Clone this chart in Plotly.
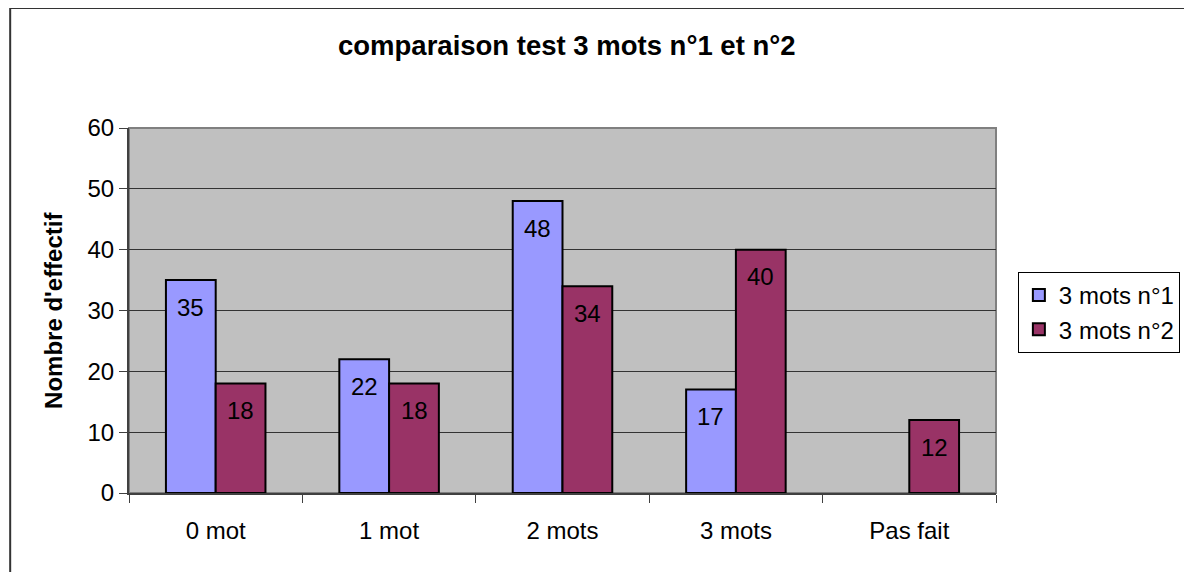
import plotly.graph_objects as go

categories = ["0 mot", "1 mot", "2 mots", "3 mots", "Pas fait"]
serie1_name = "3 mots n°1"
serie2_name = "3 mots n°2"
serie1 = [35, 22, 48, 17, None]
serie2 = [18, 18, 34, 40, 12]
y_ticks = [0, 10, 20, 30, 40, 50, 60]

FONT = "Liberation Sans, Arial, sans-serif"

# page body adds an 8px margin; the 1200px-wide page is shown in a 1192px window
OFF = 8
KX = 1200 / 1192


def fx(x):  # target screenshot x -> figure x
    return x * KX - OFF


W, H = 1192 - OFF, 572 - OFF
L, R, T, B = fx(128), fx(1000), 128 - OFF, 493 - OFF
pw, ph = R - L, B - T


def px(x):
    return (fx(x) - L) / pw


def py(y):
    return (B - (y - OFF)) / ph


fig = go.Figure()
fig.add_trace(go.Bar(x=categories, y=serie1, name=serie1_name,
                     marker=dict(color="#9999FF", line=dict(color="black", width=2))))
fig.add_trace(go.Bar(x=categories, y=serie2, name=serie2_name,
                     marker=dict(color="#993366", line=dict(color="black", width=2))))

annotations = []
for vals, shift in ((serie1, -25), (serie2, 25)):
    for c, v in zip(categories, vals):
        if v is None:
            continue
        annotations.append(dict(x=c, y=v, xref="x", yref="y", text=str(v), showarrow=False,
                                xshift=shift, yshift=-27,
                                font=dict(size=24, color="black", family=FONT)))

annotations.append(dict(x=px(52), y=0.5, xref="paper", yref="paper", text="<b>Nombre d'effectif</b>",
                        textangle=-90, showarrow=False, xanchor="center", yanchor="middle",
                        font=dict(size=24, color="black", family=FONT)))

shapes = [
    dict(type="rect", xref="paper", yref="paper", x0=px(8.5), x1=px(1210), y0=py(590), y1=py(8),
         line=dict(color="#333333", width=2), fillcolor="rgba(0,0,0,0)", layer="above"),
    dict(type="rect", xref="paper", yref="paper", x0=0, x1=1, y0=0, y1=1,
         line=dict(color="#808080", width=2), fillcolor="rgba(0,0,0,0)", layer="below"),
]

fig.update_layout(
    width=W, height=H,
    margin=dict(l=L, r=W - R, t=T, b=H - B),
    paper_bgcolor="white", plot_bgcolor="#C0C0C0",
    barmode="group", bargap=0.426, bargroupgap=0,
    font=dict(family=FONT, color="black", size=24),
    title=dict(text="<b>comparaison test 3 mots n°1 et n°2</b>", x=fx(563) / W, xanchor="center",
               y=1 - (45 - OFF) / H, yanchor="middle", font=dict(size=27.5, family=FONT)),
    showlegend=True,
    legend=dict(x=px(1022), xanchor="left", y=py(272), yanchor="top",
                bgcolor="white", bordercolor="black", borderwidth=1,
                font=dict(size=24, family=FONT), itemwidth=30, tracegroupgap=0),
    annotations=annotations,
    shapes=shapes,
)
fig.update_xaxes(type="category", showline=True, linecolor="#404040", linewidth=2,
                 ticks="outside", tickson="boundaries", ticklen=8, tickcolor="#404040",
                 tickfont=dict(size=24), showgrid=False, ticklabelstandoff=15)
fig.update_yaxes(range=[0, 60], tickvals=y_ticks, showline=True, linecolor="#404040", linewidth=2,
                 ticks="outside", ticklen=8, tickcolor="#404040", tickfont=dict(size=24),
                 showgrid=True, gridcolor="#333333", gridwidth=1, zeroline=False)

fig.write_html("out.html")
